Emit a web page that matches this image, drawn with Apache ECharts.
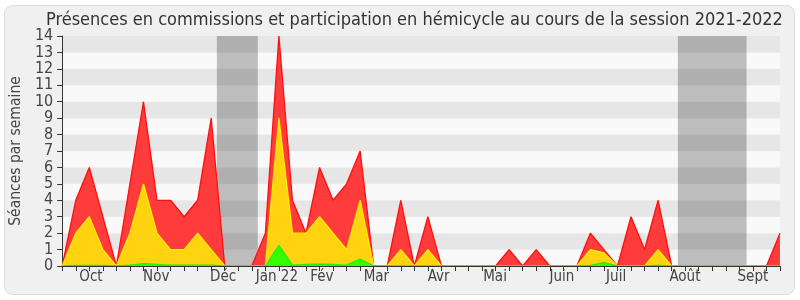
<!DOCTYPE html>
<html><head><meta charset="utf-8">
<script src="https://cdn.jsdelivr.net/npm/echarts@6/dist/echarts.min.js"></script>
<style>html,body{margin:0;padding:0;background:#fff}#c{width:800px;height:300px}</style>
</head><body><div id="c"></div>
<script>
// Weekly values (week index 0..53)
const totalSeances = [0,4,6,3,0,5,10,4,4,3,4,9,0,0,0,2,14,4,2,6,4,5,7,0,0,4,0,3,0,0,0,0,0,1,0,1,0,0,0,2,1,0,3,1,4,0,0,0,0,0,0,0,0,2];
const hemicycle     = [0,2,3,1,0,2,5,2,1,1,2,1,0,0,0,0,9,2,2,3,2,1,4,0,0,1,0,1,0,0,0,0,0,0,0,0,0,0,0,1,0.8,0,0,0,1,0,0,0,0,0,0,0,0,0];
const presidence    = [0,0.03,0.03,0.03,0,0.05,0.15,0.1,0.05,0.05,0.05,0.05,0,0,0,0,1.25,0.05,0.1,0.12,0.1,0.05,0.42,0,0,0,0,0,0,0,0,0,0,0,0,0,0,0,0,0.03,0.2,0,0,0,0.03,0,0,0,0,0,0,0,0,0];
const monthLabels   = ['Oct','Nov','Déc','Jan 22','Fév','Mar','Avr','Mai','Juin','Juil','Août','Sept'];
const monthPos      = [2.12,6.94,11.88,15.85,19.17,23.2,27.8,31.96,36.9,40.9,45.98,51.0];
const vacations     = [[11.42,14.44],[45.46,50.53]];
const yTicks        = [0,1,2,3,4,5,6,7,8,9,10,11,12,13,14];

const FONT = "'DejaVu Sans Condensed','DejaVu Sans',sans-serif";
const weeks = totalSeances.map((_, i) => i);
const toPairs = arr => arr.map((v, i) => [i, v]);

const chart = echarts.init(document.getElementById('c'), null, {renderer: 'canvas'});
chart.setOption({
  animation: false,
  backgroundColor: '#ffffff',
  graphic: [{
    type: 'rect', z: -10, silent: true,
    shape: {x: 4.5, y: 5.5, width: 790, height: 289, r: 8},
    style: {fill: '#f0f0f0', stroke: '#dddddd', lineWidth: 1}
  }],
  title: {
    text: 'Présences en commissions et participation en hémicycle au cours de la session 2021-2022',
    left: 41, top: 6,
    textStyle: {fontFamily: FONT, fontSize: 18, fontWeight: 'normal', color: '#333'}
  },
  grid: {left: 62, right: 20, top: 36, bottom: 34, containLabel: false},
  xAxis: [{
    type: 'value', min: 0, max: 53, position: 'bottom', z: 10,
    splitLine: {show: false},
    axisLine: {show: true, onZero: false, lineStyle: {color: '#333', width: 1}},
    axisTick: {show: true, length: 5, customValues: weeks, lineStyle: {color: '#333'}},
    axisLabel: {
      customValues: monthPos,
      formatter: v => { const k = monthPos.indexOf(v); return k >= 0 ? monthLabels[k] : ''; },
      fontFamily: FONT, fontSize: 15, color: '#444', margin: 4
    }
  }, {
    type: 'value', min: 0, max: 53, position: 'top',
    splitLine: {show: false},
    axisLine: {show: false},
    axisTick: {show: true, inside: true, length: 2, customValues: weeks, lineStyle: {color: '#333'}},
    axisLabel: {show: false}
  }],
  yAxis: {
    type: 'value', min: 0, max: 14, interval: 1,
    name: 'Séances par semaine', nameLocation: 'middle', nameGap: 31,
    nameTextStyle: {fontFamily: FONT, fontSize: 15.5, color: '#444'},
    axisLine: {show: true, lineStyle: {color: '#333'}},
    axisTick: {show: true, length: 5, lineStyle: {color: '#333'}},
    axisLabel: {fontFamily: FONT, fontSize: 16, color: '#444', margin: 9,
      formatter: v => yTicks.includes(v) ? String(v) : ''},
    splitLine: {show: false},
    splitArea: {show: true, areaStyle: {color: ['#f9f9f9', '#e6e6e6']}}
  },
  series: [{
    name: 'Total', type: 'line', data: toPairs(totalSeances), symbol: 'none',
    lineStyle: {color: '#ff1010', width: 1.3},
    areaStyle: {color: '#ff3b3b', opacity: 1},
    markArea: {
      silent: true,
      itemStyle: {color: 'rgba(13,13,13,0.25)'},
      data: vacations.map(v => [{xAxis: v[0]}, {xAxis: v[1]}])
    },
    z: 2
  }, {
    name: 'Hémicycle', type: 'line', data: toPairs(hemicycle), symbol: 'none',
    lineStyle: {color: '#ffee00', width: 1.3},
    areaStyle: {color: '#ffd30f', opacity: 1},
    z: 3
  }, {
    name: 'Présidence', type: 'line', data: toPairs(presidence), symbol: 'none',
    lineStyle: {color: '#22ee00', width: 1.3},
    areaStyle: {color: '#33ff00', opacity: 1},
    z: 4
  }]
});
</script></body></html>
